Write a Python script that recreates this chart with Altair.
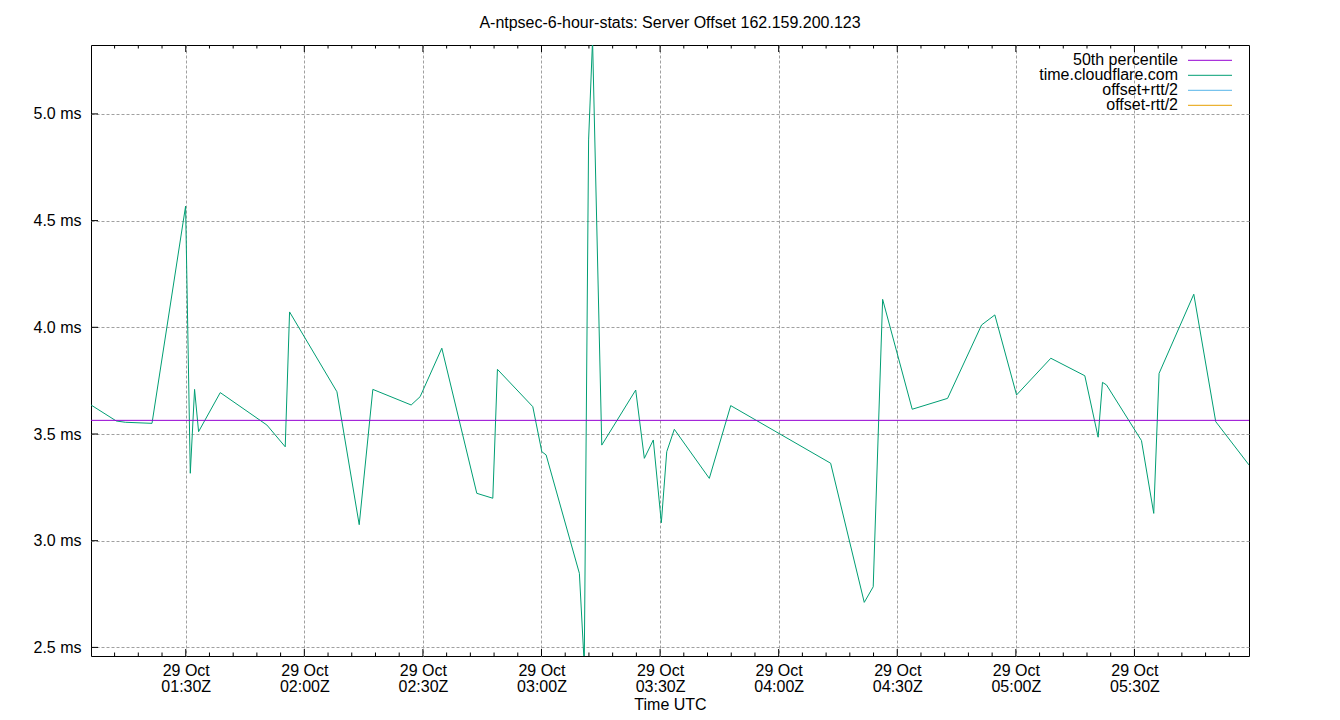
import altair as alt
import pandas as pd

# ---- data ----
times = [
    "01:06:02", "01:12:26", "01:14:43", "01:21:28", "01:29:58", "01:31:09",
    "01:32:14", "01:33:15", "01:38:44", "01:50:32", "01:55:10", "01:56:16",
    "02:08:15", "02:13:53", "02:17:20", "02:27:02", "02:29:18", "02:34:47",
    "02:43:38", "02:47:41", "02:48:51", "02:57:48", "03:00:05", "03:01:10",
    "03:09:35", "03:10:49", "03:11:55", "03:12:55", "03:15:15", "03:23:50",
    "03:26:01", "03:28:17", "03:30:19", "03:31:41", "03:33:36", "03:42:27",
    "03:47:52", "04:13:09", "04:21:39", "04:23:55", "04:26:18", "04:33:47",
    "04:42:44", "04:51:20", "04:54:41", "05:00:11", "05:08:51", "05:17:27",
    "05:20:49", "05:21:55", "05:22:56", "05:31:47", "05:34:53", "05:36:14",
    "05:45:01", "05:50:34", "05:58:59",
]
offsets_ms = [
    3.636, 3.561, 3.555, 3.550, 4.568, 3.316,
    3.709, 3.511, 3.694, 3.542, 3.440, 4.072,
    3.698, 3.075, 3.709, 3.636, 3.675, 3.902,
    3.222, 3.199, 3.803, 3.628, 3.417, 3.402,
    2.847, 2.418, 4.878, 5.346, 3.448, 3.706,
    3.386, 3.472, 3.084, 3.417, 3.522, 3.292,
    3.633, 3.363, 2.711, 2.784, 4.131, 3.616,
    3.667, 4.011, 4.058, 3.683, 3.855, 3.773,
    3.485, 3.742, 3.730, 3.469, 3.128, 3.784,
    4.155, 3.558, 3.355,
]
median_ms = 3.564
day = "2023-10-29"

major_ticks = ["01:30", "02:00", "02:30", "03:00", "03:30", "04:00", "04:30", "05:00", "05:30"]
minor_ticks = [
    "01:12", "01:18", "01:24", "01:36", "01:42", "01:48", "01:54",
    "02:06", "02:12", "02:18", "02:24", "02:36", "02:42", "02:48", "02:54",
    "03:06", "03:12", "03:18", "03:24", "03:36", "03:42", "03:48", "03:54",
    "04:06", "04:12", "04:18", "04:24", "04:36", "04:42", "04:48", "04:54",
    "05:06", "05:12", "05:18", "05:24", "05:36", "05:42", "05:48", "05:54",
]
y_ticks = [2.5, 3.0, 3.5, 4.0, 4.5, 5.0]
y_range = [2.4597, 5.3229]

legend_names = ["50th percentile", "time.cloudflare.com", "offset+rtt/2", "offset-rtt/2"]
legend_colors = ["#9400d3", "#009e73", "#56b4e9", "#e69f00"]

title_text = "A-ntpsec-6-hour-stats: Server Offset 162.159.200.123"
FONT = "Liberation Sans"

W, H = 1158, 611


def ms(t):
    return int(pd.Timestamp(f"{day}T{t}Z").value // 10**6)


df = pd.DataFrame({"time": [ms(t) for t in times], "offset": offsets_ms})
df_major = pd.DataFrame({"time": [ms(t + ":00") for t in major_ticks]})
df_minor = pd.DataFrame({"time": [ms(t + ":00") for t in minor_ticks]})
df_yt = pd.DataFrame({"offset": y_ticks})
df_med = pd.DataFrame({"offset": [median_ms]})

x_scale = alt.Scale(type="utc", domain=[ms(times[0]), ms(times[-1])])
y_scale = alt.Scale(domain=y_range, nice=False, zero=False)

x_axis = alt.Axis(
    values=[ms(t + ":00") for t in major_ticks],
    labelExpr="[utcFormat(datum.value, '%d %b'), utcFormat(datum.value, '%H:%MZ')]",
    labelLineHeight=16,
    labelPadding=6,
    titlePadding=2,
    grid=True,
    ticks=False,
    tickSize=0,
    domain=False,
    labelFlush=False,
)
y_axis = alt.Axis(
    values=y_ticks,
    labelExpr="format(datum.value, '.1f') + ' ms'",
    labelPadding=10,
    grid=True,
    ticks=False,
    tickSize=0,
    domain=False,
)

xenc = alt.X("time:T", scale=x_scale, axis=x_axis, title="Time UTC")
yenc = alt.Y("offset:Q", scale=y_scale, axis=y_axis, title=None)

line = alt.Chart(df).mark_line(color="#009e73", strokeWidth=1, clip=True).encode(x=xenc, y=yenc)
median = alt.Chart(df_med).mark_rule(color="#9400d3", strokeWidth=1).encode(y=yenc)

tick_layers = []
for d, length in ((df_major, 7), (df_minor, 3.5)):
    tick_layers.append(
        alt.Chart(d).mark_rule(color="black", strokeWidth=1).encode(
            x=xenc, y=alt.value(H), y2=alt.value(H - length)
        )
    )
    tick_layers.append(
        alt.Chart(d).mark_rule(color="black", strokeWidth=1).encode(
            x=xenc, y=alt.value(0), y2=alt.value(length)
        )
    )
tick_layers.append(
    alt.Chart(df_yt).mark_rule(color="black", strokeWidth=1).encode(
        y=yenc, x=alt.value(0), x2=alt.value(7)
    )
)

legend_layers = []
for i, (name, col) in enumerate(zip(legend_names, legend_colors)):
    ldf = pd.DataFrame({"name": [name]})
    legend_layers.append(
        alt.Chart(ldf).mark_text(
            align="right", baseline="alphabetic", font=FONT, fontSize=16, color="black"
        ).encode(text="name:N", x=alt.value(1087), y=alt.value(19.5 + 15 * i))
    )
    legend_layers.append(
        alt.Chart(ldf).mark_rule(color=col, strokeWidth=1).encode(
            x=alt.value(1097), x2=alt.value(1141), y=alt.value(15.3 + 15 * i)
        )
    )

chart = alt.layer(line, median, *tick_layers, *legend_layers).properties(
    width=W,
    height=H,
    padding={"left": 91, "top": 45, "right": 91, "bottom": 64},
    autosize=alt.AutoSizeParams(type="none"),
    title=alt.TitleParams(
        text=title_text,
        font=FONT,
        fontSize=16,
        fontWeight="normal",
        color="black",
        anchor="middle",
        baseline="alphabetic",
        offset=1,
    ),
).configure_view(
    stroke="black", strokeWidth=1
).configure_axis(
    labelFont=FONT,
    labelFontSize=16,
    labelColor="black",
    titleFont=FONT,
    titleFontSize=16,
    titleFontWeight="normal",
    titleColor="black",
    gridColor="#a0a0a0",
    gridDash=[3, 2],
    gridWidth=1,
)

chart.save("out.html", embed_options={"renderer": "svg", "actions": False})
